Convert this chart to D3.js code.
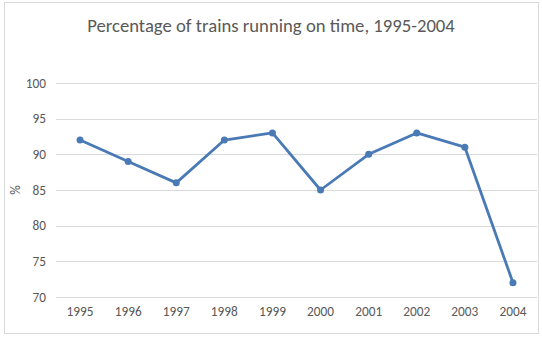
<!DOCTYPE html>
<html><head><meta charset="utf-8">
<script src="https://cdn.jsdelivr.net/npm/d3@7"></script>
<style>body{margin:0;background:#fff;}svg{display:block;}</style>
</head><body>
<svg id="c" width="542" height="337"></svg>
<script>
const years = ["1995","1996","1997","1998","1999","2000","2001","2002","2003","2004"];
const onTime = [92, 89, 86, 92, 93, 85, 90, 93, 91, 72];
const yTicks = [70, 75, 80, 85, 90, 95, 100];
const title = "Percentage of trains running on time, 1995-2004";
const yLabel = "%";

const svg = d3.select("#c");
const font = "Carlito, 'Open Sans', 'Liberation Sans', sans-serif";

svg.append("rect").attr("x",4.5).attr("y",2.5).attr("width",534).attr("height",331)
  .attr("fill","#fff").attr("stroke","#d9d9d9").attr("stroke-width",1);

const x = d3.scaleBand().domain(years).range([56, 537]);
const y = d3.scaleLinear().domain([70,100]).range([297, 83]);

// gridlines
svg.append("g").selectAll("line").data(yTicks).join("line")
  .attr("x1",56).attr("x2",537)
  .attr("y1",d=>Math.round(y(d))+0.5).attr("y2",d=>Math.round(y(d))+0.5)
  .attr("stroke","#d9d9d9").attr("stroke-width",1);

// y axis labels
const yAxis = d3.axisLeft(y).tickValues(yTicks).tickSize(0).tickPadding(10);
const gy = svg.append("g").attr("transform","translate(56,0)").call(yAxis);
gy.select(".domain").remove();
gy.selectAll("text").attr("font-family",font).attr("font-size",13.3).attr("fill","#595959");

// x axis labels
const xAxis = d3.axisBottom(x).tickSize(0).tickPadding(10);
const gx = svg.append("g").attr("transform","translate(0,297)").call(xAxis);
gx.select(".domain").remove();
gx.selectAll("text").attr("font-family",font).attr("font-size",13.3).attr("fill","#595959");

// title
svg.append("text").attr("x",271).attr("y",32).attr("text-anchor","middle")
  .attr("font-family",font).attr("font-size",18.7).attr("fill","#595959").text(title);

// y label
svg.append("text").attr("transform","translate(20,190) rotate(-90)").attr("text-anchor","middle")
  .attr("font-family",font).attr("font-size",13.3).attr("fill","#595959").text(yLabel);

const color = "#4a7ab5";
const pts = years.map((yr,i)=>({yr, v:onTime[i]}));
const line = d3.line().x(d=>x(d.yr)+x.bandwidth()/2).y(d=>y(d.v));
svg.append("path").datum(pts).attr("d",line).attr("fill","none")
  .attr("stroke",color).attr("stroke-width",2.8).attr("stroke-linejoin","round").attr("stroke-linecap","round");
svg.append("g").selectAll("circle").data(pts).join("circle")
  .attr("cx",d=>x(d.yr)+x.bandwidth()/2).attr("cy",d=>y(d.v)).attr("r",3.5)
  .attr("fill",color);
</script>
</body></html>
